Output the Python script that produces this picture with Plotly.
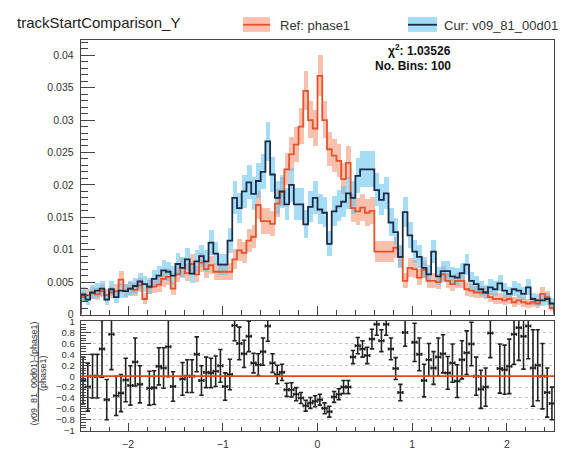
import numpy as np
import plotly.graph_objects as go

# ---------------- data ----------------
x_lo, x_hi, n_bins = -2.5, 2.5, 100

ref_vals = [
    .0027, .0030, .0033, .0031, .0036, .0030, .0034, .0036, .0054, .0036,
    .0040, .0038, .0045, .0024, .0042, .0043, .0046, .0055, .0058, .0040,
    .0062, .0072, .0064, .0078, .0062, .0080, .0070, .0076, .0066, .0066,
    .0066, .0066, .0085, .0099, .0095, .0114, .0120, .0169, .0144, .0144,
    .0140, .0171, .0189, .0224, .0247, .0262, .0290, .0345, .0300, .0287,
    .0368, .0300, .0255, .0245, .0237, .0209, .0234, .0164, .0159, .0165,
    .0157, .0160, .0097, .0097, .0097, .0097, .0103, .0089, .0052, .0072,
    .0070, .0057, .0069, .0052, .0052, .0050, .0062, .0052, .0047, .0052,
    .0052, .0039, .0037, .0034, .0034, .0034, .0027, .0024, .0024, .0022,
    .0024, .0019, .0022, .0019, .0017, .0019, .0017, .0032, .0027, .0010,
]

cur_vals = [
    .0031, .0023, .0034, .0037, .0040, .0023, .0039, .0027, .0037, .0036,
    .0040, .0044, .0051, .0047, .0043, .0055, .0060, .0068, .0066, .0060,
    .0078, .0072, .0085, .0063, .0082, .0090, .0082, .0111, .0094, .0077,
    .0077, .0114, .0180, .0164, .0190, .0204, .0186, .0206, .0220, .0267,
    .0216, .0180, .0190, .0170, .0200, .0170, .0170, .0139, .0166, .0180,
    .0162, .0157, .0109, .0159, .0167, .0174, .0187, .0180, .0214, .0224,
    .0224, .0224, .0192, .0177, .0187, .0142, .0127, .0089, .0158, .0122,
    .0097, .0089, .0072, .0062, .0097, .0059, .0067, .0067, .0059, .0057,
    .0064, .0077, .0052, .0047, .0039, .0034, .0042, .0039, .0048, .0037,
    .0032, .0039, .0037, .0032, .0042, .0024, .0022, .0022, .0024, .0017,
]

# statistical (Poisson-like) band scale
ref_err_scale = 0.0165
cur_err_scale = 0.0185

ratio_vals = [
    -0.08, -0.20, 0.00, 0.00, 0.50, -0.43, 0.77, -0.36, -0.31, -0.07,
    -0.17, 0.26, -0.15, 1.25, -0.22, -0.21, 0.18, 0.15, 0.54, -0.19,
    1.20, -0.05, 0.00, 0.00, 0.40, -0.08, 0.07, 0.06, 0.09, 0.19,
    -0.19, 0.03, 0.93, 0.60, 0.41, 0.73, 0.24, 0.21, 0.45, 0.92,
    0.24, 0.03, 0.07, -0.25, -0.25, -0.33, -0.40, -0.54, -0.49, -0.46,
    -0.43, -0.59, -0.65, -0.38, -0.33, -0.20, -0.20, 0.35, 0.56, 0.50,
    0.38, 0.68, 0.95, 0.65, 0.95, 0.50, 0.14, -0.30, 0.80, 1.20,
    0.62, 0.40, -0.08, 0.30, 0.15, 0.35, 0.41, 0.06, 0.24, -0.09,
    0.30, 0.43, 0.59, 0.00, -0.24, -0.20, 0.79, 1.20, 0.14, 0.12,
    0.18, 0.77, 0.89, 0.73, 0.92, 0.15, 0.20, 0.00, -0.30, -0.50,
]

ratio_errs = [
    .43, .44, .40, .40, .52, .37, .65, .36, .34, .40,
    .36, .44, .34, .60, .31, .31, .34, .37, .55, .27,
    .50, .30, .30, .30, .32, .27, .28, .27, .28, .30,
    .25, .28, .28, .30, .25, .28, .18, .20, .25, .28,
    .17, .17, .15, .12, .13, .12, .10, .10, .10, .10,
    .10, .10, .10, .10, .10, .12, .12, .12, .15, .15,
    .15, .18, .20, .20, .20, .20, .20, .15, .25, .50,
    .35, .30, .30, .30, .30, .35, .35, .30, .35, .30,
    .35, .40, .40, .35, .35, .35, .45, .50, .45, .45,
    .50, .55, .60, .60, .60, .70, .65, .60, .45, .30,
]

title_text = "trackStartComparison_Y"
ref_label = "Ref: phase1"
cur_label = "Cur: v09_81_00d01"
chi2_text = "χ<sup>2</sup>: 1.03526"
nbins_text = "No. Bins: 100"
ratio_num = "(v09_81_00d01)-(phase1)"
ratio_den = "(phase1)"

# ---------------- styling ----------------
W, H = 568, 450
REF_LINE = "#e4532b"
REF_BAND = "rgba(246,140,108,0.55)"
CUR_LINE = "#1b2b48"
CUR_BAND = "rgba(100,195,240,0.58)"
AX_COL = "#444"
FONT = "Liberation Sans, Arial, Helvetica, sans-serif"

edges = np.linspace(x_lo, x_hi, n_bins + 1)
centers = 0.5 * (edges[:-1] + edges[1:])
bw = edges[1] - edges[0]
ref = np.array(ref_vals)
cur = np.array(cur_vals)
ref_err = ref_err_scale * np.sqrt(ref)
cur_err = cur_err_scale * np.sqrt(cur)


def px_x(p):
    return p / W


def px_y(p):
    return 1 - p / H


def step_xy(vals):
    xs = [x_lo] + list(edges[:-1]) + [x_hi, x_hi]
    ys = [0] + list(vals) + [vals[-1], 0]
    return xs, ys


fig = go.Figure()

# error bands (E2 style rectangles)
fig.add_trace(go.Bar(x=centers, y=2 * ref_err, base=ref - ref_err, width=bw,
                     marker=dict(color=REF_BAND, line=dict(width=0)),
                     xaxis="x", yaxis="y", showlegend=False, hoverinfo="skip"))
fig.add_trace(go.Bar(x=centers, y=2 * cur_err, base=cur - cur_err, width=bw,
                     marker=dict(color=CUR_BAND, line=dict(width=0)),
                     xaxis="x", yaxis="y", showlegend=False, hoverinfo="skip"))

# step lines
xs, ys = step_xy(ref)
fig.add_trace(go.Scatter(x=xs, y=ys, mode="lines", line=dict(color=REF_LINE, width=1.8, shape="hv"),
                         xaxis="x", yaxis="y", showlegend=False))
xs, ys = step_xy(cur)
fig.add_trace(go.Scatter(x=xs, y=ys, mode="lines", line=dict(color=CUR_LINE, width=1.8, shape="hv"),
                         xaxis="x", yaxis="y", showlegend=False))

# ratio points (ROOT does not draw points whose value lies outside the range)
r = np.array(ratio_vals)
re = np.array(ratio_errs)
mask = np.abs(r) <= 1.0
fig.add_trace(go.Scatter(
    x=centers[mask], y=r[mask], mode="markers",
    marker=dict(size=1, color="#111"),
    error_y=dict(type="data", array=re[mask], width=2.2, thickness=1.6, color="#222"),
    error_x=dict(type="data", array=[bw / 2] * int(mask.sum()), width=1.5, thickness=1.6, color="#222"),
    xaxis="x2", yaxis="y2", showlegend=False))

# domains from pixel frame positions
xdom = [px_x(80.7), px_x(554.3)]
top_dom = [px_y(321.7), px_y(36.7)]
bot_dom = [px_y(443.0), px_y(328.5)]

tick_font = dict(family=FONT, size=10.5, color="#333")

fig.update_layout(
    width=W, height=H,
    margin=dict(l=0, r=0, t=0, b=0),
    paper_bgcolor="white", plot_bgcolor="white",
    barmode="overlay", bargap=0,
    showlegend=False,
    xaxis=dict(domain=xdom, anchor="y", range=[x_lo, x_hi], showticklabels=False,
               ticks="inside", ticklen=9, tickwidth=1, tickcolor=AX_COL, dtick=1, tick0=0,
               minor=dict(dtick=0.2, tick0=0, ticks="inside", ticklen=5, tickcolor=AX_COL),
               showline=True, mirror=True, linecolor=AX_COL, linewidth=1,
               showgrid=False, zeroline=False),
    yaxis=dict(domain=top_dom, anchor="x", range=[0, 0.0423], dtick=0.005, tick0=0,
               ticks="inside", ticklen=14, tickwidth=1, tickcolor=AX_COL,
               minor=dict(dtick=0.001, tick0=0, ticks="inside", ticklen=7, tickcolor=AX_COL),
               showline=True, mirror=True, linecolor=AX_COL, linewidth=1,
               showgrid=False, zeroline=False, tickfont=tick_font, ticklabelstandoff=4),
    xaxis2=dict(domain=xdom, anchor="y2", range=[x_lo, x_hi], dtick=1, tick0=0,
                ticks="inside", ticklen=8, tickwidth=1, tickcolor=AX_COL,
                minor=dict(dtick=0.2, tick0=0, ticks="inside", ticklen=4, tickcolor=AX_COL),
                showline=True, mirror=True, linecolor=AX_COL, linewidth=1,
                showgrid=False, zeroline=False, tickfont=tick_font, ticklabelstandoff=3),
    yaxis2=dict(domain=bot_dom, anchor="x2", range=[-1.01, 1.01], dtick=0.2, tick0=0,
                ticks="inside", ticklen=10, tickwidth=1, tickcolor=AX_COL,
                minor=dict(dtick=0.05, ticks="inside", ticklen=5, tickcolor=AX_COL),
                showline=True, mirror=True, linecolor=AX_COL, linewidth=1,
                showgrid=True, gridcolor="#c4c4c4", griddash="dot", gridwidth=1,
                zeroline=False, tickfont=dict(family=FONT, size=9.5, color="#333"),
                ticklabelstandoff=3),
)

# red reference line at 0 in ratio panel
fig.add_shape(type="line", xref="x2", yref="y2", x0=x_lo, x1=x_hi, y0=0, y1=0,
              line=dict(color="#e8432a", width=1.8))

# legend boxes
for x0, x1, fill, lc in [(243, 270, REF_BAND, REF_LINE), (408, 437, CUR_BAND, CUR_LINE)]:
    fig.add_shape(type="rect", xref="paper", yref="paper",
                  x0=px_x(x0), x1=px_x(x1), y0=px_y(28), y1=px_y(12.5),
                  fillcolor=fill, line=dict(width=0))
    fig.add_shape(type="line", xref="paper", yref="paper",
                  x0=px_x(x0), x1=px_x(x1), y0=px_y(20.5), y1=px_y(20.5),
                  line=dict(color=lc, width=1.8))

ann = []
ann.append(dict(text=title_text, x=px_x(15), y=px_y(18), xanchor="left", yanchor="middle",
                font=dict(family=FONT, size=15, color="#222")))
ann.append(dict(text=ref_label, x=px_x(278), y=px_y(21), xanchor="left", yanchor="middle",
                font=dict(family=FONT, size=13, color="#333")))
ann.append(dict(text=cur_label, x=px_x(442), y=px_y(21), xanchor="left", yanchor="middle",
                font=dict(family=FONT, size=13, color="#333")))
ann.append(dict(text="<b>" + chi2_text + "</b>", x=px_x(453), y=px_y(47), xanchor="right",
                yanchor="middle", font=dict(family=FONT, size=12, color="#111")))
ann.append(dict(text="<b>" + nbins_text + "</b>", x=px_x(453), y=px_y(63), xanchor="right",
                yanchor="middle", font=dict(family=FONT, size=12, color="#111")))
ann.append(dict(text=ratio_num, x=px_x(34), y=px_y(383), xanchor="center", yanchor="middle",
                textangle=-90, font=dict(family=FONT, size=9, color="#333")))
ann.append(dict(text=ratio_den, x=px_x(42.5), y=px_y(383), xanchor="center", yanchor="middle",
                textangle=-90, font=dict(family=FONT, size=9, color="#333")))
for a in ann:
    a.update(xref="paper", yref="paper", showarrow=False)
fig.update_layout(annotations=ann)

# fraction bar of the ratio title
fig.add_shape(type="line", xref="paper", yref="paper",
              x0=px_x(38.3), x1=px_x(38.3), y0=px_y(433), y1=px_y(332),
              line=dict(color="#333", width=1))

fig.write_html("out.html")
